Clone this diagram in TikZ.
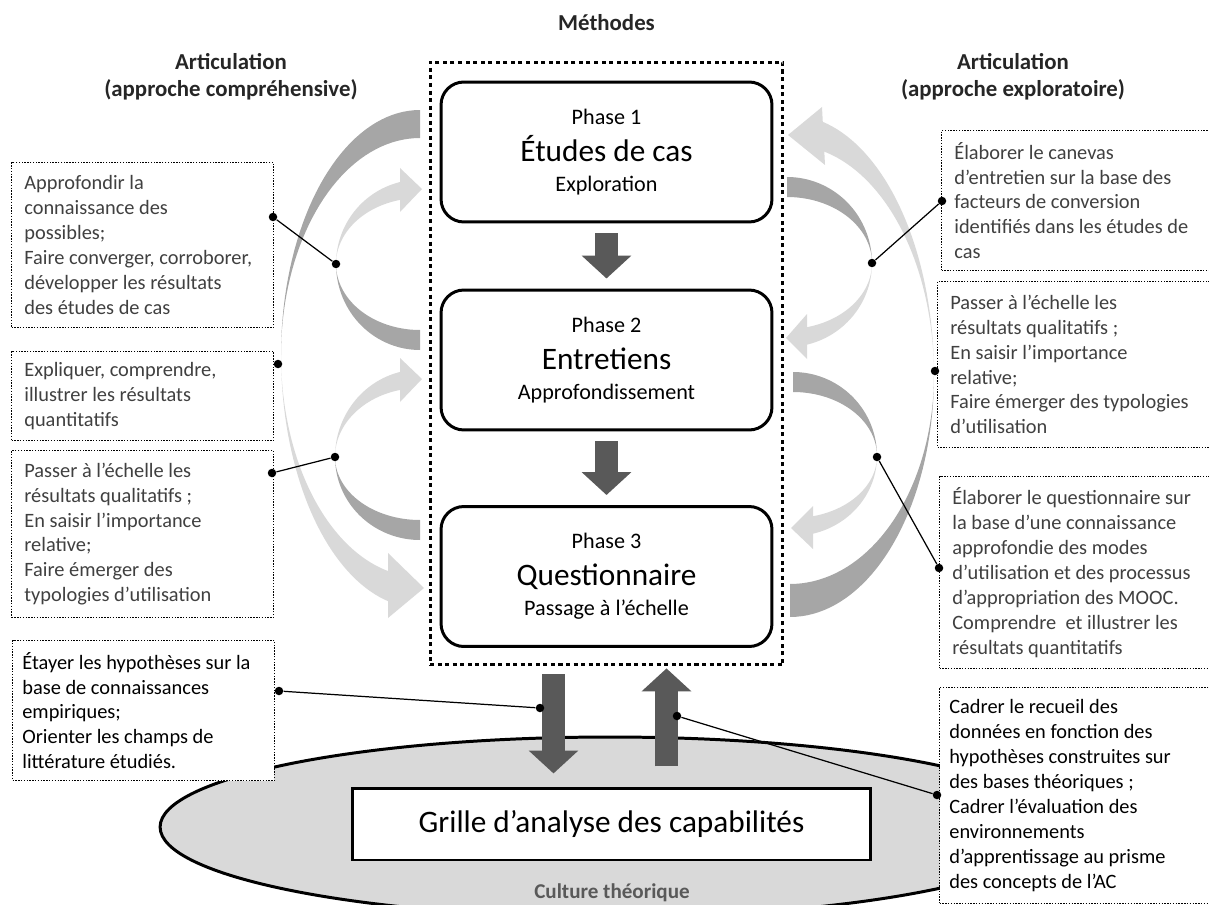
\documentclass[tikz,border=0pt]{standalone}
\usepackage{fontspec}
\setmainfont{Carlito}
\usetikzlibrary{positioning,shapes.geometric,arrows.meta}

\definecolor{bandlight}{HTML}{D9D9D9}
\definecolor{banddark}{HTML}{A6A6A6}
\definecolor{arrowfill}{HTML}{595959}
\definecolor{notegray}{HTML}{404040}

% crescent between two elliptic arcs: cx, cy, a, b outer, b inner, from, to, colour
\newcommand{\band}[8]{\fill[#8] plot[domain=#6:#7,samples=40] ({#1+#3*cos(\x)},{#2+#4*sin(\x)})
  -- plot[domain=#7:#6,samples=40] ({#1+#3*cos(\x)},{#2+#5*sin(\x)}) -- cycle;}

\begin{document}
\begin{tikzpicture}[x=0.02cm,y=-0.02cm,
		phase/.style={draw,rounded corners=13pt,line width=1.7pt,minimum width=6.62cm,minimum height=2.8cm,align=center,font=\fontsize{12.6}{17}\selectfont},
		note/.style={draw,fill=white,line width=0.6pt,dash pattern=on 0.8pt off 0.8pt,anchor=north west,inner sep=0pt},
		note text/.style={align=left,text=notegray,inner sep=0pt,font=\fontsize{11.6}{14.17}\selectfont},
		title/.style={align=center,text=black!85,font=\bfseries\fontsize{13}{15.3}\selectfont},
		dot/.style={circle,fill,inner sep=0pt,minimum size=0.17cm},
		link/.style={line width=0.7pt},
		big arrow/.style={draw=arrowfill,line width=13.6pt,-{Triangle[length=13pt,width=27.5pt]}}]

		\useasboundingbox (0,0) rectangle (1209,905);
		\clip (0,0) rectangle (1209,905);

		% curved arrows, left side
		\band{420}{355}{139}{245}{217}{180}{270}{banddark}
		\band{420}{355}{139}{253}{222}{101}{180}{bandlight}
		\fill[bandlight] (388,553) -- (424,588) -- (388,618) -- cycle;
		\band{420}{264}{84}{86}{66}{90}{180}{banddark}
		\band{420}{264}{84}{84.4}{66}{180}{259}{bandlight}
		\fill[bandlight] (400,168) -- (422,189) -- (400,212) -- cycle;
		\band{420}{457}{85}{83}{63}{90}{180}{banddark}
		\band{420}{457}{85}{87.5}{69}{180}{259}{bandlight}
		\fill[bandlight] (400,358) -- (422,379) -- (400,402) -- cycle;

		% curved arrows, right side
		\band{790}{375}{144}{242}{209}{0}{90}{banddark}
		\band{790}{375}{144}{260}{230}{-79}{0}{bandlight}
		\fill[bandlight] (822,107) -- (788,135) -- (825,165) -- cycle;
		\band{787}{263}{85}{86}{66}{-90}{0}{banddark}
		\band{787}{263}{85}{84}{66}{0}{79}{bandlight}
		\fill[bandlight] (807,314) -- (786,338) -- (807,359) -- cycle;
		\band{793}{456}{84}{84}{64}{-90}{0}{banddark}
		\band{793}{456}{84}{80}{62}{0}{79}{bandlight}
		\fill[bandlight] (813,506) -- (791,528) -- (813,549) -- cycle;

		\node[ellipse,draw,fill=bandlight,line width=1.7pt,inner sep=0pt,minimum width=18cm,minimum height=3.6cm] (culture) at (610,827) {};
		\node[text=arrowfill,font=\bfseries\fontsize{12}{14}\selectfont] (culturelabel) at (612,893) {Culture théorique};
		\node[draw,fill=white,line width=1.7pt,minimum width=10.38cm,minimum height=1.44cm,font=\fontsize{17.8}{21}\selectfont] (grille) at (611.5,824) {Grille d’analyse des capabilités};

		\node[draw,line width=1.7pt,dash pattern=on 2.3pt off 2pt,minimum width=7.06cm,minimum height=12.06cm] (methods) at (606.5,363.5) {};
		\node[phase] (p1) at (606.5,152) {Phase 1\\[4.2pt]{\fontsize{17.8}{21}\selectfont Études de cas}\\Exploration};
		\node[phase] (p2) at (606.5,360) {Phase 2\\[4.2pt]{\fontsize{17.8}{21}\selectfont Entretiens}\\Approfondissement};
		\node[phase] (p3) at (606.5,576.5) {Phase 3\\[4.2pt]{\fontsize{17.8}{21}\selectfont Questionnaire}\\Passage à l’échelle};

		\draw[big arrow,shorten <=5.7pt,shorten >=5.7pt] (p1) -- (p2);
		\draw[big arrow,shorten <=5.7pt,shorten >=5.7pt] (p2) -- (p3);
		\draw[big arrow] ([shift={(-53,8)}]methods.south) -- ([shift={(-53,107)}]methods.south);
		\draw[big arrow] ([shift={(60,100)}]methods.south) -- ([shift={(60,2)}]methods.south);

		\node[title] (methtitle) at (606.5,23) {Méthodes};
		\node[title] (lefttitle) at (231,76.5) {Articulation\\(approche compréhensive)};
		\node[title] (righttitle) at (1013,76.5) {Articulation\\(approche exploratoire)};

		% notes, left
		\node[note,minimum width=5.24cm,minimum height=3.3cm] (nA) at (11,162) {};
		\node[note text,right=0.26cm of nA.west] (tA) {Approfondir la\\connaissance des\\possibles;\\Faire converger, corroborer,\\développer les résultats\\des études de cas};
		\node[note,minimum width=5.24cm,minimum height=1.78cm] (nB) at (11,351) {};
		\node[note text,right=0.26cm of nB.west] (tB) {Expliquer, comprendre,\\illustrer les résultats\\quantitatifs};
		\node[note,minimum width=5.24cm,minimum height=3.34cm] (nC) at (11,450) {};
		\node[note text,right=0.26cm of nC.west] (tC) {Passer à l’échelle les\\résultats qualitatifs ;\\En saisir l’importance\\relative;\\Faire émerger des\\typologies d’utilisation};
		\node[note,minimum width=5.24cm,minimum height=2.8cm] (nD) at (12,640) {};
		\node[note text,text=black,right=0.2cm of nD.west] (tD) {Étayer les hypothèses sur la\\base de connaissances\\empiriques;\\Orienter les champs de\\littérature étudiés.};

		% notes, right
		\node[note,minimum width=5.9cm,minimum height=2.8cm] (nE) at (941,130) {};
		\node[note text,right=0.26cm of nE.west] (tE) {Élaborer le canevas\\d’entretien sur la base des\\facteurs de conversion\\identifiés dans les études de\\cas};
		\node[note,minimum width=5.9cm,minimum height=3.32cm] (nF) at (937,281) {};
		\node[note text,right=0.26cm of nF.west] (tF) {Passer à l’échelle les\\résultats qualitatifs ;\\En saisir l’importance\\relative;\\Faire émerger des typologies\\d’utilisation};
		\node[note,minimum width=5.9cm,minimum height=3.84cm] (nG) at (939,476) {};
		\node[note text,right=0.26cm of nG.west] (tG) {Élaborer le questionnaire sur\\la base d’une connaissance\\approfondie des modes\\d’utilisation et des processus\\d’appropriation des MOOC.\\Comprendre~ et illustrer les\\résultats quantitatifs};
		\node[note,minimum width=5.9cm,minimum height=4.32cm] (nH) at (939,687) {};
		\node[note text,text=black,right=0.2cm of nH.west] (tH) {Cadrer le recueil des\\données en fonction des\\hypothèses construites sur\\des bases théoriques ;\\Cadrer l’évaluation des\\environnements\\d’apprentissage au prisme\\des concepts de l’AC};

		% connectors
		\node[dot] (dA) at (273,217) {};
		\node[dot] (dA2) at (336,264) {};
		\node[dot] (dB) at (278,364) {};
		\node[dot] (dC) at (272,473) {};
		\node[dot] (dC2) at (335,457) {};
		\node[dot] (dD) at (279,691) {};
		\node[dot] (dD2) at (540,708) {};
		\node[dot] (dE) at (942,201) {};
		\node[dot] (dE2) at (872,263) {};
		\node[dot] (dF) at (935,371) {};
		\node[dot] (dG) at (939,568) {};
		\node[dot] (dG2) at (877,457) {};
		\node[dot] (dH) at (937,795) {};
		\node[dot] (dH2) at (677,716) {};
		\draw[link] (dA) -- (dA2);
		\draw[link] (dC) -- (dC2);
		\draw[link] (dD) -- (dD2);
		\draw[link] (dE) -- (dE2);
		\draw[link] (dG) -- (dG2);
		\draw[link] (dH) -- (dH2);
\end{tikzpicture}
\end{document}
